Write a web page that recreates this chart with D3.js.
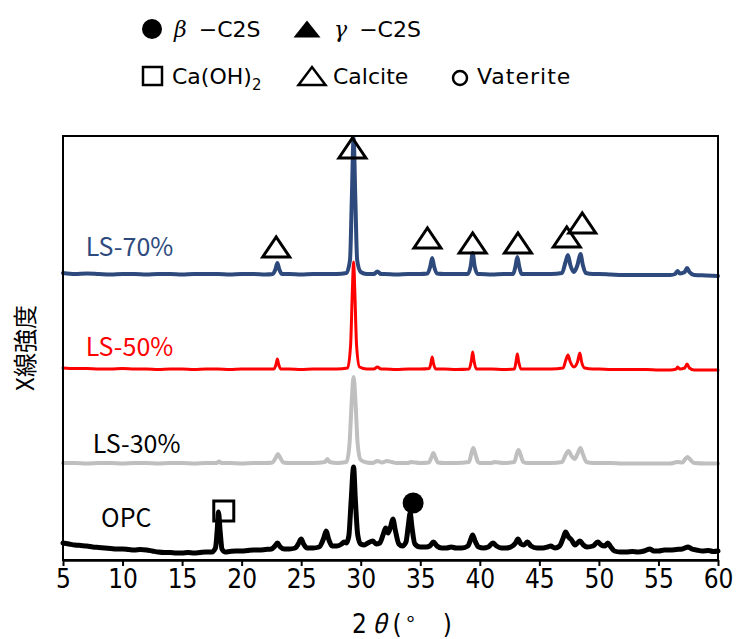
<!DOCTYPE html>
<html><head><meta charset="utf-8">
<script src="https://cdn.jsdelivr.net/npm/d3@7"></script>
<style>
body{margin:0;background:#fff;}
svg{display:block;}
</style></head>
<body>
<svg id="chart" width="737" height="639"></svg>
<script>
// ---- data (2θ in degrees, intensity in a.u., stacked offsets included) ----
const xTicks = [5,10,15,20,25,30,35,40,45,50,55,60];
const seriesNames = ["LS-70%","LS-50%","LS-30%","OPC"];
const seriesColors = ["#2E4A7D","#FF0000","#BFBFBF","#000000"];

const ls70 = [[5,287],[6,286],[7,286.5],[8,286],[9,285.5],[10,286],[11,286],[12,285.5],[13,286],[14,286],[15,285.5],[16,286],[17,286],[18,286],[19,285.5],[20,286],[21,286],[22,285.5],[22.6,286],[22.85,291],[23.0,297],[23.15,291],[23.4,286],[24,286],[25,285.5],[26,286],[27,286],[28,286],[28.8,287],[29.1,300],[29.25,360],[29.4,422],[29.55,360],[29.7,300],[30.0,288],[30.5,286],[31.1,286],[31.4,288.5],[31.7,286],[32,286],[33,285.5],[34,286],[35,286],[35.6,286.5],[35.85,294],[36.0,302],[36.15,294],[36.4,286.5],[37,286],[38,286],[39.0,286],[39.25,295],[39.4,307],[39.55,295],[39.8,286],[40,286],[41,285.5],[42,286],[42.8,286],[43.0,294],[43.15,303],[43.3,294],[43.5,286],[44,286],[45,286],[46,286],[46.9,287],[47.2,298],[47.4,305],[47.6,295],[47.9,288],[48.2,295],[48.45,306],[48.65,295],[48.9,287],[49.5,286],[50,286],[51,285.5],[52,285],[53,285],[54,285],[55,285],[56,285],[56.4,286],[56.6,289],[56.8,286.5],[57.2,288],[57.4,292],[57.6,288],[58,285],[59,284.5],[60,284]];

const ls50 = [[5,192],[6,191.5],[7,191.5],[8,191],[9,191],[10,191.5],[11,191],[12,191],[13,190.5],[14,191],[15,191],[16,190.5],[17,191],[18,191],[19,190.5],[20,191],[21,191],[22,191],[22.7,191],[22.9,196],[23.0,201],[23.1,196],[23.3,191],[24,191],[25,190.5],[26,191],[27,191],[28,191],[28.9,192],[29.15,215],[29.3,270],[29.4,298],[29.5,270],[29.65,215],[29.9,193],[30.5,191],[31.1,191],[31.4,193],[31.7,191],[32,191],[33,190.5],[34,191],[35,191],[35.75,191.5],[35.9,197],[36.0,203],[36.1,197],[36.3,191],[37,191],[38,190.5],[39.1,191],[39.3,200],[39.4,208],[39.5,200],[39.7,191],[40,191],[41,191],[42,190.5],[42.9,191],[43.05,199],[43.15,206],[43.25,199],[43.45,191],[44,191],[45,191],[46,191],[47.0,192],[47.2,199],[47.4,205],[47.6,198],[47.9,193],[48.2,198],[48.4,207],[48.55,198],[48.8,192],[49.5,191],[50,191],[51,190.5],[52,190.5],[53,190.5],[54,190.5],[55,190],[56,190],[56.5,191],[56.6,193],[56.8,191],[57.2,192],[57.4,196],[57.6,192],[58,190],[59,190],[60,190]];

const ls30 = [[5,97],[6,97],[7,96.5],[8,97],[9,97],[10,96.5],[11,97],[12,97],[13,96.5],[14,97],[15,97],[16,96.5],[17,97],[17.9,97],[18.1,98.5],[18.3,97],[19,97],[20,96.5],[21,97],[22,97],[22.6,97.5],[22.85,102],[23.05,106],[23.25,102],[23.5,97.5],[24,97],[25,97],[26,97],[27.0,98],[27.2,101],[27.4,98],[28,97],[28.8,98],[29.05,115],[29.25,160],[29.4,183],[29.55,160],[29.75,115],[30.0,100],[30.5,97.5],[31.0,97],[31.4,99],[31.8,97.5],[32.2,99],[32.6,98],[33,97],[34,97],[34.2,98],[35,97],[35.7,97.5],[35.95,103],[36.1,107],[36.25,103],[36.5,97.5],[37,97],[38,97],[39.1,98],[39.3,107],[39.45,112],[39.6,107],[39.85,98],[40,97],[41,97],[41.2,98],[42,97],[42.9,98],[43.1,106],[43.25,110],[43.4,106],[43.65,98],[44,97],[45,97],[46,97],[46.9,98],[47.2,105],[47.45,109],[47.7,104],[47.95,101],[48.2,106],[48.45,112],[48.65,106],[48.95,98],[49.5,97],[50,97],[51,97],[52,96.5],[53,96.5],[54,96.5],[55,96.5],[56,96.5],[56.6,98],[57.0,97.5],[57.25,101],[57.45,103],[57.7,100],[58,97],[59,96.5],[60,96.5]];

const opc = [[5,17],[5.5,16],[6,15],[6.5,14.5],[7,14],[7.5,13],[8,12.5],[8.5,12],[9,11.5],[9.5,11],[10,11],[10.5,10.5],[11,10],[11.5,10.5],[12,10],[12.5,9],[13,8],[13.5,7.5],[14,7.5],[14.5,7],[15,7],[15.5,7.5],[16,7],[16.5,7.5],[17,8],[17.5,8],[17.8,12],[17.95,30],[18.05,48],[18.2,28],[18.35,11],[18.6,8],[19,8.5],[19.5,9],[20,9],[20.5,9.5],[21,10],[21.5,10],[22,10.5],[22.5,11],[22.8,14],[23.0,17],[23.25,13],[23.6,11],[24,11],[24.5,12],[24.8,17],[25.0,21],[25.2,16],[25.5,12],[26,12],[26.5,13],[26.9,22],[27.1,29],[27.3,21],[27.6,14],[28,14],[28.4,16],[28.6,18],[28.8,17],[29.0,24],[29.2,60],[29.4,93],[29.55,60],[29.75,25],[30.0,16],[30.3,15],[30.6,17],[31.0,19],[31.3,16],[31.6,17],[31.9,26],[32.1,32],[32.3,27],[32.5,33],[32.7,41],[32.9,30],[33.2,16],[33.5,14],[33.8,18],[34.0,35],[34.15,47],[34.3,33],[34.55,16],[35,13],[35.5,13],[35.8,14],[36.1,18],[36.4,14],[36.8,12],[37.2,12],[37.6,13],[38.0,12],[38.5,12],[39.0,14],[39.25,21],[39.4,25],[39.6,19],[39.9,13],[40.3,12],[40.7,13],[41.1,17],[41.4,14],[41.8,12],[42.2,12],[42.6,13],[43.0,17],[43.2,21],[43.45,16],[43.7,15],[44.0,18],[44.3,14],[44.8,12],[45.3,12],[45.7,13],[45.95,14],[46.3,12],[46.7,14],[47.0,22],[47.2,28],[47.45,23],[47.7,20],[48.0,15],[48.4,19],[48.7,15],[49.0,13],[49.5,14],[49.9,18],[50.2,15],[50.5,14],[50.75,17],[51.0,13],[51.3,9],[51.8,8],[52.3,8],[52.8,8.5],[53.3,8],[53.8,9],[54.3,11],[54.6,9],[55.0,9],[55.5,10],[56.0,10],[56.5,10.5],[57.0,11],[57.5,13],[57.8,11],[58.2,10],[58.7,9],[59.2,9.5],[59.6,8.5],[60,9]];

// phase markers: [2θ, intensity]
const calciteMarks = [[22.9,313],[29.3,412],[35.6,322],[39.4,317],[43.2,317],[47.3,323],[48.6,337]];
const caohMarks = [[18.5,49]];
const betaMarks = [[34.4,57]];

// series label positions: [2θ, intensity]
const labelPos = [[6.9,304],[6.9,204],[7.5,107],[8.2,33]];

// ---- chart ----
const svg = d3.select("#chart");
const M = {left:63, right:718, top:136, bottom:560};
const x = d3.scaleLinear().domain([5,60]).range([M.left, M.right]);
const y = d3.scaleLinear().domain([0,424]).range([M.bottom, M.top]);

const line = d3.line().x(d=>x(d[0])).y(d=>y(d[1])).curve(d3.curveMonotoneX);
const allSeries = [ls70, ls50, ls30, opc];
const widths = [4, 3, 4, 5];

const g = svg.append("g");
allSeries.forEach((s,i)=>{
  g.append("path").datum(s).attr("d", line)
   .attr("fill","none").attr("stroke", seriesColors[i])
   .attr("stroke-width", widths[i]).attr("stroke-linejoin","round").attr("stroke-linecap","round");
});

// frame
svg.append("rect").attr("x",M.left).attr("y",M.top)
  .attr("width",M.right-M.left).attr("height",M.bottom-M.top)
  .attr("fill","none").attr("stroke","#000").attr("stroke-width",2);

// x axis
const xAxis = d3.axisBottom(x).tickValues(xTicks).tickSize(6).tickSizeOuter(0).tickPadding(4);
const ax = svg.append("g").attr("transform",`translate(0,${M.bottom})`).call(xAxis);
ax.select(".domain").attr("stroke","#000").attr("stroke-width",2.5);
ax.selectAll(".tick line").attr("stroke","#000").attr("stroke-width",2);
ax.selectAll(".tick text").attr("fill","#000")
  .style("font-family","'Liberation Sans Narrow','DejaVu Sans Condensed','Roboto Condensed',sans-serif")
  .style("font-size","26px");

// axis titles
const xt = svg.append("text").attr("x",352).attr("y",633)
  .style("font-family","'Liberation Sans Narrow','DejaVu Sans Condensed',sans-serif").style("font-size","26px");
xt.append("tspan").text("2");
xt.append("tspan").attr("dx",5).style("font-family","'Noto Sans CJK JP',sans-serif").style("font-size","25px").style("font-style","italic").text("θ");
xt.append("tspan").attr("dx",6).text("(");
xt.append("tspan").attr("dx",5).style("font-family","'Noto Sans CJK JP',sans-serif").style("font-size","22px").text("°");
xt.append("tspan").attr("dx",28).text(")");
svg.append("text").attr("transform","translate(34,348) rotate(-90)").attr("text-anchor","middle")
  .style("font-family","'Noto Sans CJK JP',sans-serif").style("font-size","24px")
  .text("X線強度");

// series labels
seriesNames.forEach((n,i)=>{
  svg.append("text").attr("x",x(labelPos[i][0])).attr("y",y(labelPos[i][1]))
   .attr("fill", i===2 ? "#000" : seriesColors[i])
   .style("font-family","'Noto Sans CJK JP',sans-serif").style("font-size","25px")
   .text(n);
});

// markers
function triPath(cx,cy,w,h){return `M${cx-w/2},${cy+h/2}L${cx},${cy-h/2}L${cx+w/2},${cy+h/2}Z`;}
svg.append("g").selectAll("path").data(calciteMarks).join("path")
  .attr("d",d=>triPath(x(d[0]),y(d[1]),27,20))
  .attr("fill","none").attr("stroke","#000").attr("stroke-width",3).attr("stroke-linejoin","miter");
svg.append("g").selectAll("rect").data(caohMarks).join("rect")
  .attr("x",d=>x(d[0])-10).attr("y",d=>y(d[1])-10).attr("width",20).attr("height",20)
  .attr("fill","none").attr("stroke","#000").attr("stroke-width",3);
svg.append("g").selectAll("circle").data(betaMarks).join("circle")
  .attr("cx",d=>x(d[0])).attr("cy",d=>y(d[1])).attr("r",10.5).attr("fill","#000");

// legend
const lg = svg.append("g").style("font-family","'DejaVu Sans',sans-serif").style("font-size","22px");
lg.append("circle").attr("cx",152).attr("cy",29).attr("r",10).attr("fill","#000");
const t1 = lg.append("text").attr("x",174).attr("y",37);
t1.append("tspan").style("font-style","italic").style("font-family","'DejaVu Serif',serif").text("β");
t1.append("tspan").attr("dx",12).text("−C2S");
lg.append("path").attr("d",triPath(307,29,27,17)).attr("fill","#000");
const t2 = lg.append("text").attr("x",334).attr("y",37);
t2.append("tspan").style("font-style","italic").style("font-family","'DejaVu Serif',serif").text("γ");
t2.append("tspan").attr("dx",12).text("−C2S");
lg.append("rect").attr("x",143).attr("y",67).attr("width",19).attr("height",18)
  .attr("fill","none").attr("stroke","#000").attr("stroke-width",2.5);
const t3 = lg.append("text").attr("x",172).attr("y",84);
t3.append("tspan").text("Ca(OH)");
t3.append("tspan").attr("dy",6).style("font-size","15px").text("2");
lg.append("path").attr("d",triPath(312,76,27,18)).attr("fill","none").attr("stroke","#000").attr("stroke-width",2.5);
lg.append("text").attr("x",333).attr("y",84).text("Calcite");
lg.append("circle").attr("cx",460).attr("cy",78).attr("r",7).attr("fill","none").attr("stroke","#000").attr("stroke-width",2.5);
lg.append("text").attr("x",477).attr("y",84).style("letter-spacing","1px").text("Vaterite");
</script>
</body></html>
